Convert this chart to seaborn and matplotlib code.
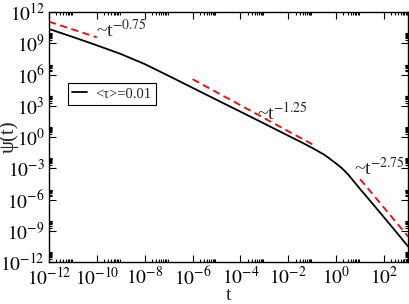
import numpy as np
import pandas as pd
import matplotlib
matplotlib.use("Agg")
import matplotlib.pyplot as plt
from matplotlib.ticker import FixedLocator, FuncFormatter, NullFormatter
import seaborn as sns

# ---- data (log10 values) ----
log_t = [-12, -11, -10, -9, -8, -7, -6, -5, -4, -3, -2, -1.5, -1, -0.5, -0.25,
         0, 0.25, 0.5, 0.75, 1, 1.5, 2, 2.5, 3]
log_psi = [10.37, 9.6, 8.8, 7.97, 7.0, 5.87, 4.72, 3.57, 2.43, 1.28, 0.12, -0.45,
           -1.05, -1.7, -2.12, -2.55, -3.02, -3.6, -4.3, -5.0, -6.35, -7.72, -9.1, -10.5]
series_label = "<τ>=0.01"

# guide power laws: (log t start, log t end, log psi at start, exponent, label)
guide_t0 = [-12, -6, 1]
guide_t1 = [-10, -1, 3]
guide_y0 = [11.07, 5.55, -4.05]
guide_exp = [-0.75, -1.25, -2.75]
guide_labels = [r"~t$^{-0.75}$", r"~t$^{-1.25}$", r"~t$^{-2.75}$"]
label_pos = [(-10.03, 9.6), (-3.3, 1.64), (0.75, -3.64)]

x_major_exp = [-12, -10, -8, -6, -4, -2, 0, 2]
y_major_exp = [-12, -9, -6, -3, 0, 3, 6, 9, 12]

sns.set_style("ticks")
plt.rcParams["font.family"] = ["Liberation Serif", "DejaVu Serif"]
plt.rcParams["mathtext.fontset"] = "stix"

fig = plt.figure(figsize=(4.09, 3.04), dpi=100)
ax = fig.add_axes([49 / 409, 1 - 262 / 304, (408 - 49) / 409, (262 - 12) / 304])

df = pd.DataFrame({"t": [10.0 ** v for v in log_t], "psi": [10.0 ** v for v in log_psi]})
sns.lineplot(data=df, x="t", y="psi", ax=ax, color="black", lw=1.3,
             label=series_label, sort=False)

for a, b, y0, e in zip(guide_t0, guide_t1, guide_y0, guide_exp):
    gd = pd.DataFrame({"t": [10.0 ** a, 10.0 ** b],
                       "psi": [10.0 ** y0, 10.0 ** (y0 + e * (b - a))]})
    sns.lineplot(data=gd, x="t", y="psi", ax=ax, color="red", lw=1.3,
                 dashes=False, linestyle=(0, (4, 2.5)), legend=False)

ax.set_xscale("log")
ax.set_yscale("log")
ax.set_xlim(1e-12, 1e3)
ax.set_ylim(1e-12, 1e12)

ax.xaxis.set_major_locator(FixedLocator([10.0 ** e for e in x_major_exp]))
ax.xaxis.set_minor_locator(FixedLocator([k * 10.0 ** e for e in x_major_exp for k in range(2, 10)]))
ax.yaxis.set_major_locator(FixedLocator([10.0 ** e for e in y_major_exp]))
ax.yaxis.set_minor_locator(FixedLocator([k * 10.0 ** e for e in y_major_exp for k in range(2, 10)]))
fmt = FuncFormatter(lambda v, p: r"$10^{%d}$" % int(round(np.log10(v))))
ax.xaxis.set_major_formatter(fmt)
ax.yaxis.set_major_formatter(fmt)
ax.xaxis.set_minor_formatter(NullFormatter())
ax.yaxis.set_minor_formatter(NullFormatter())

ax.tick_params(which="both", direction="in", top=True, right=True, labelsize=14,
               width=0.8, colors="black")
ax.tick_params(which="major", length=5, pad=3)
ax.tick_params(which="minor", length=2.5)
for s in ax.spines.values():
    s.set_linewidth(1.0)
    s.set_color("black")

ax.set_xlabel("t", fontsize=14, va="baseline")
ax.set_ylabel("ψ(t)", fontsize=15)
ax.xaxis.set_label_coords(0.5, -0.15)
ax.yaxis.set_label_coords(-0.085, 0.5)

# annotations
for (lx, ly), txt in zip(label_pos, guide_labels):
    ax.text(10.0 ** lx, 10.0 ** ly, txt, fontsize=14, ha="left", va="baseline")

leg = ax.legend(loc="upper left", bbox_to_anchor=(0.053, 0.716), fontsize=10.5,
                frameon=True, fancybox=False, framealpha=1, edgecolor="black",
                handlelength=1.0, handletextpad=0.6, borderpad=0.3, borderaxespad=0)
leg.get_frame().set_linewidth(0.8)

fig.savefig("out.png", dpi=100)
